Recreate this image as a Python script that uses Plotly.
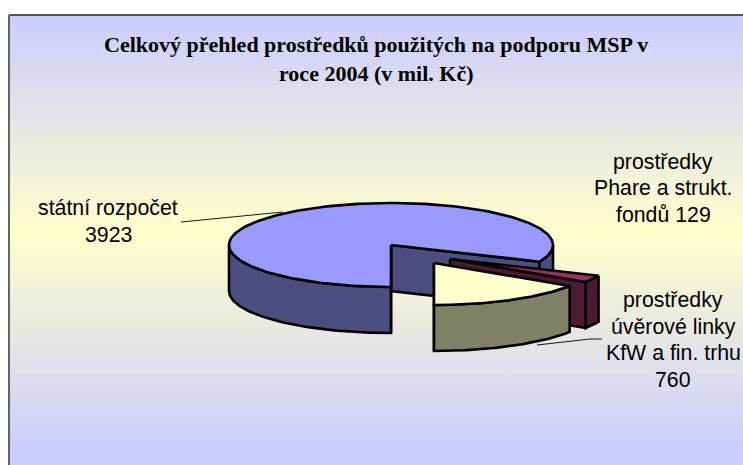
import numpy as np
import plotly.graph_objects as go

# Data
categories = ["státní rozpočet", "prostředky Phare a strukt. fondů", "prostředky úvěrové linky KfW a fin. trhu"]
values = [3923, 129, 760]
label_lines = [["státní rozpočet", "3923"],
               ["prostředky", "Phare a strukt.", "fondů 129"],
               ["prostředky", "úvěrové linky", "KfW a fin. trhu", "760"]]
title_lines = ["Celkový přehled prostředků použitých na podporu MSP v", "roce 2004 (v mil. Kč)"]

# Style / geometry
top_colors = ["#9999FF", "#993366", "#FFFFCC"]
wall_colors = ["#4D4D80", "#4D1A33", "#808066"]
CX, CY, A, B, H = 391, 245, 162, 42, 46
START = 180
offsets = [(0, 0), (59, 14), (43, 18)]
label_pos = [(108, [208, 235]), (663, [162, 188, 215]), (673, [300, 327, 353, 380])]
W, HT = 743, 465

fig = go.Figure()

# Gradient frame
fig.add_trace(go.Scatter(
    x=[9, 760, 760, 9, 9], y=[15, 15, 480, 480, 15],
    mode="lines", fill="toself", line=dict(color="#555555", width=1.8),
    fillgradient=dict(type="vertical", start=15, stop=450,
                      colorscale=[[0, "#CCCCFF"], [0.5, "#FFFFCC"], [1, "#CCCCFF"]]),
    hoverinfo="skip", showlegend=False))


def pt(theta, off):
    t = np.radians(theta)
    return CX + off[0] + A * np.sin(t), CY + off[1] - B * np.cos(t)


def poly(xs, ys, color, lw=2.6):
    xs, ys = list(xs), list(ys)
    fig.add_trace(go.Scatter(x=xs + xs[:1], y=ys + ys[:1], mode="lines", fill="toself",
                             fillcolor=color, line=dict(color="black", width=lw),
                             hoverinfo="skip", showlegend=False))


def wall(t0, t1, off, color):
    th = np.linspace(t0, t1, 80)
    x, y = pt(th, off)
    poly(np.r_[x, x[::-1]], np.r_[y, y[::-1] + H], color)


total = sum(values)
angle = START
for i, v in enumerate(values):
    span = 360 * v / total
    a0, a1 = angle, angle + span
    off = offsets[i]
    ox, oy = CX + off[0], CY + off[1]
    ex, ey = pt(a1, off)
    poly([ox, ex, ex, ox], [oy, ey, ey + H, oy + H], wall_colors[i])
    sx, sy = pt(a0, off)
    if i == 0:
        poly([ox, sx, sx, ox], [oy, sy, sy + H, oy + H], wall_colors[i])
    for lo, hi in [(90, 270), (450, 630)]:
        t0, t1 = max(a0, lo), min(a1, hi)
        if t1 > t0:
            wall(t0, t1, off, wall_colors[i])
    th = np.linspace(a0, a1, 200)
    x, y = pt(th, off)
    poly(np.r_[ox, x], np.r_[oy, y], top_colors[i])
    angle = a1

# Leader lines
fig.add_trace(go.Scatter(x=[181, 283], y=[222, 212], mode="lines", line=dict(color="black", width=0.9),
                         hoverinfo="skip", showlegend=False))
fig.add_trace(go.Scatter(x=[602, 590, 537], y=[339, 339, 345], mode="lines", line=dict(color="black", width=0.9),
                         hoverinfo="skip", showlegend=False))

ann = []
for (cx, ys), lines in zip(label_pos, label_lines):
    for y, s in zip(ys, lines):
        ann.append(dict(x=cx, y=y, text=s, showarrow=False, xanchor="center", yanchor="middle",
                        font=dict(family="Liberation Sans", size=21.3, color="black")))
for y, s in zip([44, 73], title_lines):
    ann.append(dict(x=376, y=y, text="<b>%s</b>" % s, showarrow=False, xanchor="center", yanchor="middle",
                    font=dict(family="Liberation Serif", size=22, color="black")))

fig.update_layout(width=W, height=HT, margin=dict(l=0, r=0, t=0, b=0), paper_bgcolor="white",
                  plot_bgcolor="white", showlegend=False, annotations=ann,
                  xaxis=dict(range=[0, W], visible=False, fixedrange=True),
                  yaxis=dict(range=[HT, 0], visible=False, fixedrange=True))
fig.write_html("out.html", config=dict(displayModeBar=False),
               post_script="document.body.style.margin='0';document.documentElement.style.overflow='hidden';")
